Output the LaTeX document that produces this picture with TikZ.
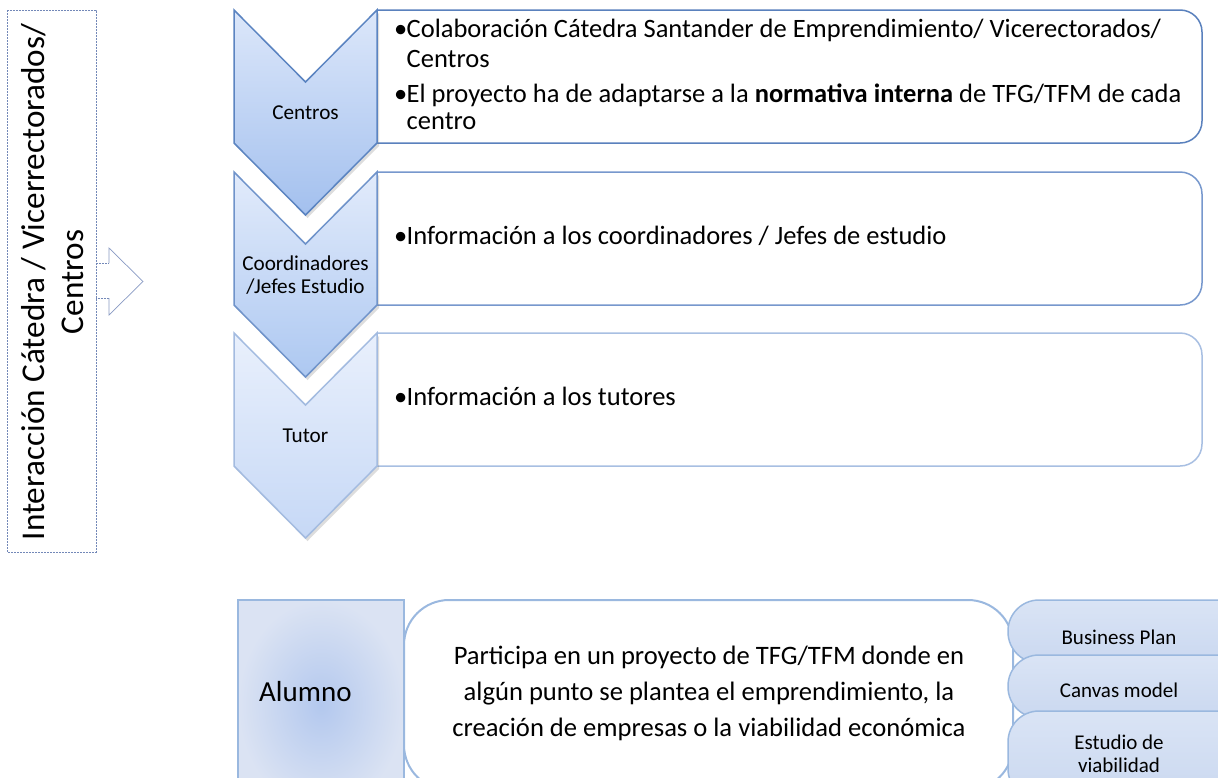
\documentclass[tikz,border=0pt]{standalone}
\usepackage{fontspec}
\setmainfont{Carlito}
\usetikzlibrary{shadows}
\definecolor{lboxc}{HTML}{7388B8}
\definecolor{cbA}{HTML}{5B84C1}
\definecolor{cbB}{HTML}{6F93CA}
\definecolor{cbC}{HTML}{A3BBE0}
\definecolor{cAt}{HTML}{DCE7FA}
\definecolor{cAb}{HTML}{A3C0EE}
\definecolor{cBt}{HTML}{E2EBFB}
\definecolor{cBb}{HTML}{ADC8F1}
\definecolor{cCt}{HTML}{E9F0FC}
\definecolor{cCb}{HTML}{C6D8F6}
\definecolor{bbA}{HTML}{5A81BD}
\definecolor{bbB}{HTML}{7798CD}
\definecolor{bbC}{HTML}{A8BFE2}
\definecolor{lowb}{HTML}{9AB8DF}
\definecolor{aluin}{HTML}{B3C8EE}
\definecolor{aluout}{HTML}{DBE3F3}
\definecolor{pillt}{HTML}{DAE4F5}
\definecolor{pillb}{HTML}{CAD8F0}
\tikzset{
  chev/.style={line width=1.5pt, line join=miter,
    drop shadow={shadow xshift=2pt, shadow yshift=-3pt, opacity=0.22, fill=black!60}},
  infobox/.style={line width=1.5pt, fill=white},
  boxtxt/.style={inner sep=0pt, anchor=base west, font=\fontsize{26.5}{32}\selectfont},
  chevtxt/.style={inner sep=0pt, align=center, font=\fontsize{21.2}{23.5}\selectfont},
  pilltxt/.style={inner sep=0pt, align=center, font=\fontsize{21}{23}\selectfont},
  pill/.style={draw=lowb, line width=1.5pt, rounded corners=31pt, top color=pillt, bottom color=pillb},
}
\newcommand{\bul}{\makebox[12.5pt][l]{•}}
\begin{document}
\begin{tikzpicture}[x=1pt,y=-1pt]
\useasboundingbox (0,0) rectangle (1218,777);
\clip (0,0) rectangle (1218,777);
\fill[white] (0,0) rectangle (1218,777);

% left dashed box
\draw[lboxc, line width=0.8pt, dash pattern=on 2pt off 1pt] (7,10) rectangle (96,552);
\node[rotate=90, align=center, inner sep=0pt, font=\fontsize{33.2}{39}\selectfont] (inter) at (52.5,282)
  {Interacción Cátedra / Vicerrectorados/\\Centros};
% block arrow
\draw[lboxc, line width=0.8pt, dash pattern=on 2pt off 1pt] (96,263) -- (109,263) (109,298) -- (96,298);
\draw[lboxc!85, line width=0.7pt, line join=miter] (109,263) -- (109,248) -- (143,281.5) -- (109,315) -- (109,298);

% info boxes (open on the left side, covered by chevrons)
\draw[infobox, draw=bbA, rounded corners=22pt] (377,10) -- (1202,10) -- (1202,143) -- (377,143);
\draw[infobox, draw=bbB, rounded corners=22pt] (377,172) -- (1202,172) -- (1202,305) -- (377,305);
\draw[infobox, draw=bbC, rounded corners=22pt] (377,333) -- (1202,333) -- (1202,466) -- (377,466);

% chevrons
\draw[chev, draw=cbC, top color=cCt, bottom color=cCb]
  (234,333) -- (305.5,405) -- (377,333) -- (377,466) -- (305.5,538) -- (234,466) -- cycle;
\draw[chev, draw=cbB, top color=cBt, bottom color=cBb]
  (234,172) -- (305.5,244) -- (377,172) -- (377,305) -- (305.5,377) -- (234,305) -- cycle;
\draw[chev, draw=cbA, top color=cAt, bottom color=cAb]
  (234,10) -- (305.5,82) -- (377,10) -- (377,143) -- (305.5,215) -- (234,143) -- cycle;

\node[chevtxt] (centros) at (305.5,113) {Centros};
\node[chevtxt] (coord) at (305.5,275) {Coordinadores\\/Jefes Estudio};
\node[chevtxt] (tutor) at (305.5,436) {Tutor};

% box texts
\node[boxtxt] (l1) at (394,37) {\bul Colaboración Cátedra Santander de Emprendimiento/ Vicerectorados/};
\node[boxtxt] (l2) at (406.5,67) {Centros};
\node[boxtxt] (l3) at (394,102) {\bul El proyecto ha de adaptarse a la \textbf{normativa interna} de TFG/TFM de cada};
\node[boxtxt] (l4) at (406.5,129) {centro};
\node[boxtxt] (l5) at (394,244) {\bul Información a los coordinadores / Jefes de estudio};
\node[boxtxt] (l6) at (394,405.5) {\bul Información a los tutores};

% bottom section
\draw[draw=lowb, line width=2pt, shading=radial, inner color=aluin, outer color=aluout] (238,600) rectangle (404,810);
\node[inner sep=0pt, anchor=base west, font=\fontsize{29}{34}\selectfont] (alumno) at (259,701) {Alumno};
\draw[draw=lowb, line width=2pt, fill=white, rounded corners=45pt] (404,600) rectangle (1013,790);
\node[inner sep=0pt, align=center, font=\fontsize{26.6}{36}\selectfont] (part) at (709,693)
  {Participa en un proyecto de TFG/TFM donde en\\algún punto se plantea el emprendimiento, la\\creación de empresas o la viabilidad económica};

\draw[pill] (1008,600) rectangle (1250,663);
\draw[pill] (1008,655) rectangle (1250,718);
\draw[pill] (1008,711) rectangle (1250,800);
\node[pilltxt] (bp) at (1119,637) {Business Plan};
\node[pilltxt] (cm) at (1119,690) {Canvas model};
\node[pilltxt] (ev) at (1119,753.5) {Estudio de\\viabilidad};
\end{tikzpicture}
\end{document}
